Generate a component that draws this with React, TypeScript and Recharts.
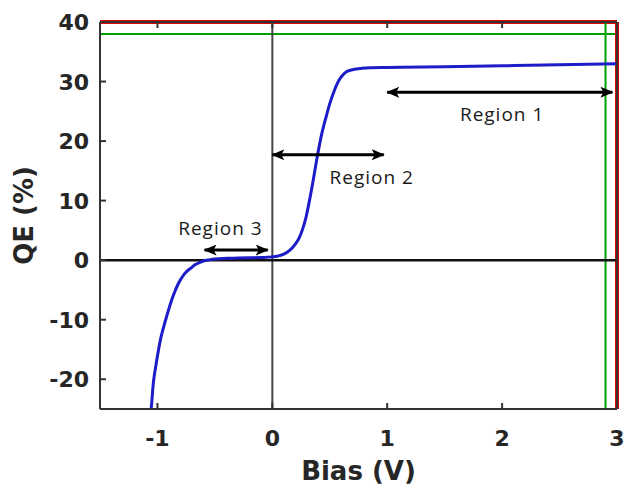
import React from "react";
import {
  LineChart,
  Line,
  XAxis,
  YAxis,
  ReferenceLine,
  ReferenceDot,
} from "recharts";

// QE vs bias
const biasV = [
  -1.07, -1.055, -1.035, -1.011, -0.97, -0.954, -0.91, -0.867, -0.82, -0.765,
  -0.7, -0.67, -0.635, -0.6, -0.55, -0.5, -0.4, -0.3, -0.2, -0.1, 0, 0.05, 0.1,
  0.148, 0.2, 0.235, 0.265, 0.293, 0.32, 0.35, 0.394, 0.43, 0.467, 0.5, 0.54,
  0.58, 0.61, 0.65, 0.73, 0.85, 1.0, 1.5, 2.0, 2.5, 3.0,
];
const qePct = [
  -27, -25, -20.5, -17.4, -13, -11.8, -8.8, -6.2, -4, -2.3, -1.2, -0.75, -0.4,
  -0.15, 0.05, 0.2, 0.3, 0.35, 0.4, 0.45, 0.55, 0.7, 1.0, 1.6, 2.7, 3.8, 5.3,
  7.2, 9.7, 12.8, 17.7, 21.2, 24, 26.3, 28.5, 30.2, 31, 31.7, 32.1, 32.3, 32.35,
  32.5, 32.65, 32.8, 33.0,
];

const xTicks = [-1, 0, 1, 2, 3];
const yTicks = [-20, -10, 0, 10, 20, 30, 40];
const xDomain = [-1.5, 3];
const yDomain = [-25, 40];

// annotations: double arrows and their region names
const regionNames = ["Region 1", "Region 2", "Region 3"];
const arrowFrom = [1.0, 0, -0.59];
const arrowTo = [2.96, 0.97, -0.04];
const arrowLevel = [28.2, 17.7, 1.7];
const labelBias = [2.0, 0.865, -0.452];
const labelQE = [24.5, 13.9, 5.3];

const data = biasV.map((v, i) => ({ bias: v, qe: qePct[i] }));

const TICK_LEN = 6;
const X_GAP = 21;
const Y_GAP = 11;
const INK = "#262626";
const labelFont = {
  fontFamily: "DejaVu Sans",
  fontWeight: "bold" as const,
  fontSize: 22,
  fill: INK,
};
const frame = { stroke: "#333", strokeWidth: 2 };

// inward tick mark + label; side tells which edge of the box we are on
function makeTick(side: "bottom" | "top" | "left" | "right", showText: boolean) {
  return (props: any) => {
    const { x, y, payload } = props;
    let line;
    if (side === "bottom") {
      const base = y - X_GAP;
      line = <line x1={x} x2={x} y1={base} y2={base - TICK_LEN} {...frame} />;
    } else if (side === "top") {
      line = <line x1={x} x2={x} y1={y} y2={y + TICK_LEN} {...frame} />;
    } else if (side === "left") {
      const base = x + Y_GAP;
      line = <line x1={base} x2={base + TICK_LEN} y1={y} y2={y} {...frame} />;
    } else {
      line = <line x1={x} x2={x - TICK_LEN} y1={y} y2={y} {...frame} />;
    }
    return (
      <g>
        {line}
        {showText && side === "bottom" && (
          <text x={x} y={y} dy={16} textAnchor="middle" {...labelFont}>
            {payload.value}
          </text>
        )}
        {showText && side === "left" && (
          <text x={x} y={y} dy={8} textAnchor="end" {...labelFont}>
            {payload.value}
          </text>
        )}
      </g>
    );
  };
}

export default function App() {
  return (
    <div style={{ position: "absolute", left: 0, top: 0, background: "#fff" }}>
      <LineChart
        width={624}
        height={487}
        data={data}
        margin={{ top: 21, right: 6, bottom: 0, left: 0 }}
      >
        <defs>
          <marker
            id="arrowHead"
            markerWidth={13}
            markerHeight={11}
            refX={12}
            refY={5.5}
            orient="auto-start-reverse"
            markerUnits="userSpaceOnUse"
          >
            <path d="M0,0 L13,5.5 L0,11 L3,5.5 Z" fill="#000" />
          </marker>
        </defs>
        <XAxis
          type="number"
          dataKey="bias"
          domain={xDomain}
          ticks={xTicks}
          allowDataOverflow
          height={78}
          axisLine={frame}
          tickLine={false}
          tickSize={0}
          tickMargin={X_GAP}
          tick={makeTick("bottom", true)}
          label={{
            value: "Bias (V)",
            position: "insideBottom",
            offset: 7,
            style: {
              fontFamily: "DejaVu Sans",
              fontWeight: "bold",
              fontSize: 26,
              fill: INK,
            },
          }}
        />
        <XAxis
          xAxisId="top"
          orientation="top"
          type="number"
          dataKey="bias"
          domain={xDomain}
          ticks={xTicks}
          height={1}
          axisLine={frame}
          tickLine={false}
          tickSize={0}
          tickMargin={0}
          tick={makeTick("top", false)}
        />
        <YAxis
          type="number"
          domain={yDomain}
          ticks={yTicks}
          allowDataOverflow
          width={100}
          axisLine={frame}
          tickLine={false}
          tickSize={0}
          tickMargin={Y_GAP}
          tick={makeTick("left", true)}
          label={{
            value: "QE (%)",
            angle: -90,
            position: "insideLeft",
            offset: 24,
            style: {
              fontFamily: "DejaVu Sans",
              fontWeight: "bold",
              fontSize: 26,
              fill: INK,
              textAnchor: "middle",
            },
          }}
        />
        <YAxis
          yAxisId="right"
          orientation="right"
          type="number"
          domain={yDomain}
          ticks={yTicks}
          width={1}
          axisLine={frame}
          tickLine={false}
          tickSize={0}
          tickMargin={0}
          tick={makeTick("right", false)}
        />
        {/* box edges, drawn in colour for a check */}
        <ReferenceLine y={yDomain[1]} stroke="#e00000" strokeWidth={4} ifOverflow="visible" />
        <ReferenceLine y={38} stroke="#00a000" strokeWidth={2} />
        <ReferenceLine x={xDomain[1]} stroke="#e00000" strokeWidth={4} ifOverflow="visible" />
        <ReferenceLine x={2.9} stroke="#00a000" strokeWidth={2} />
        <ReferenceLine x={0} stroke="#444" strokeWidth={2} />
        <ReferenceLine y={0} stroke="#111" strokeWidth={2.5} />
        <Line
          type="monotone"
          dataKey="qe"
          stroke="#1c1cc8"
          strokeWidth={3}
          dot={false}
          isAnimationActive={false}
        />
        {regionNames.map((name, i) => (
          <ReferenceLine
            key={"arrow-" + name}
            segment={[
              { x: arrowFrom[i], y: arrowLevel[i] },
              { x: arrowTo[i], y: arrowLevel[i] },
            ]}
            stroke="#000"
            strokeWidth={3}
            markerStart="url(#arrowHead)"
            markerEnd="url(#arrowHead)"
          />
        ))}
        {regionNames.map((name, i) => (
          <ReferenceDot
            key={"label-" + name}
            x={labelBias[i]}
            y={labelQE[i]}
            r={0}
            fill="none"
            stroke="none"
            label={{
              value: name,
              position: "center",
              style: {
                fontFamily: "Open Sans",
                fontSize: 19,
                letterSpacing: 1,
                fill: "#1a1a1a",
              },
            }}
          />
        ))}
      </LineChart>
    </div>
  );
}
